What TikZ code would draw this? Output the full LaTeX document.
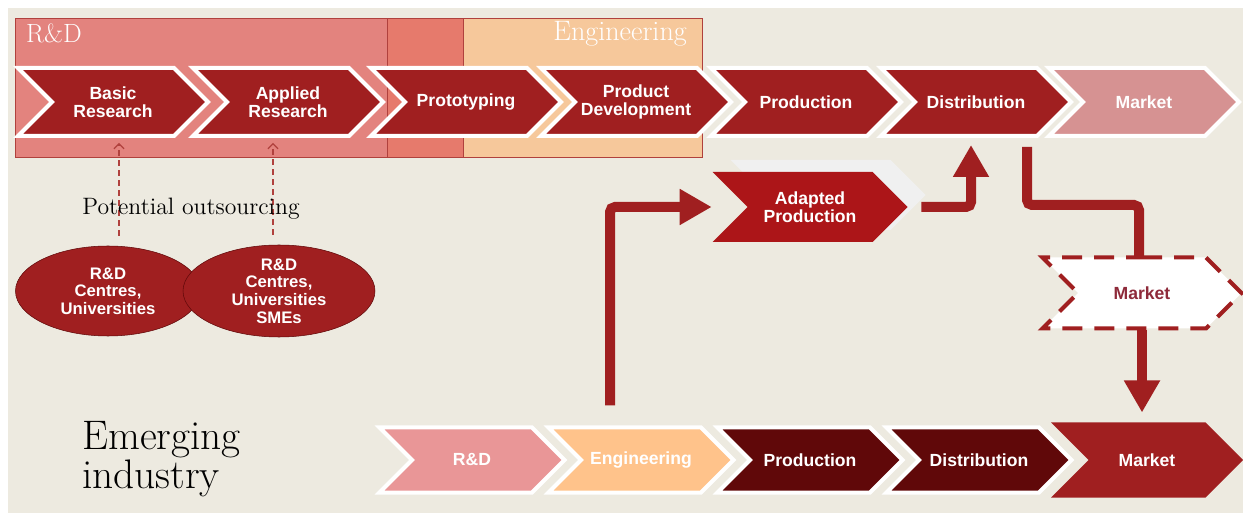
\documentclass[tikz,border=0pt]{standalone}
\usepackage{fontspec}
\setsansfont{Liberation Sans}
\usetikzlibrary{shapes.symbols,shapes.geometric,arrows.meta,shadows}

\definecolor{paper}{RGB}{237,234,224}
\definecolor{rdbox}{RGB}{227,131,126}
\definecolor{engbox}{RGB}{246,200,155}
\definecolor{overlapbox}{RGB}{230,122,108}
\definecolor{boxline}{RGB}{176,65,61}
\definecolor{chevred}{RGB}{160,31,32}
\definecolor{mktlight}{RGB}{214,146,146}
\definecolor{adred}{RGB}{172,21,24}
\definecolor{adshade}{RGB}{240,240,240}
\definecolor{rdpink}{RGB}{233,150,151}
\definecolor{engpeach}{RGB}{255,195,139}
\definecolor{darkprod}{RGB}{96,8,9}
\definecolor{mkttext}{RGB}{142,42,58}

\tikzset{
    chev/.style={signal, signal from=west, signal to=east, signal pointer angle=90,
        minimum width=38mm, minimum height=13.6mm, inner sep=0pt,
        draw=white, line width=0.8mm, fill=chevred, text=white,
        font=\sffamily\bfseries\fontsize{10}{10.5}\selectfont, align=center},
    lowchev/.style={chev, minimum width=37mm, minimum height=13mm},
    centre/.style={ellipse, fill=chevred, draw=darkprod, line width=0.3pt,
        text=white, inner sep=0pt, align=center,
        font=\sffamily\bfseries\fontsize{9.5}{10}\selectfont},
    flowline/.style={draw=chevred, line width=2mm},
    flowarrow/.style={flowline, -{Triangle[length=6.4mm,width=6.8mm]}},
    outsrc/.style={draw=boxline, line width=0.7pt, dash pattern=on 1.2mm off 0.8mm,
        -{Straight Barb[length=1mm,width=2mm]}}
}

\begin{document}
\begin{tikzpicture}[x=0.2mm, y=-0.2mm]
    \useasboundingbox (0,0) rectangle (1243,515);
    \fill[paper] (8,8) rectangle (1243,513);

    % phase boxes
    \filldraw[fill=rdbox, draw=boxline] (15,18) rectangle (463,157);
    \filldraw[fill=engbox, draw=boxline] (387,18) rectangle (702,157);
    \filldraw[fill=overlapbox, draw=boxline] (387,18) rectangle (463,157);
    \node[anchor=west, text=white, font=\fontsize{15}{16}\selectfont] (rdtitle) at (20,33) {R\&D};
    \node[anchor=east, text=white, font=\fontsize{16}{17}\selectfont] (engtitle) at (693,34) {Engineering};

    % mature value chain
    \node[chev] (basic) at (113,102) {Basic\\Research};
    \node[chev] (applied) at (288,102) {Applied\\Research};
    \node[chev] (proto) at (466,102) {Prototyping};
    \node[chev] (proddev) at (636,102) {Product\\Development};
    \node[chev] (prod) at (806,102) {Production};
    \node[chev] (dist) at (976,102) {Distribution};
    \node[chev, fill=mktlight] (market) at (1144,102) {Market};

    % outsourcing
    \node[centre, minimum width=37mm, minimum height=18mm] (centres) at (108,291) {R\&D\\Centres,\\Universities};
    \node[centre, minimum width=38.4mm, minimum height=18.4mm] (smes) at (279,291) {R\&D\\Centres,\\Universities\\SMEs};
    \draw[outsrc, shorten <=2mm, shorten >=1mm] ([xshift=1.2mm]centres.north -| basic.south) -- ([xshift=1.2mm]basic.south);
    \draw[outsrc, shorten <=2mm, shorten >=1mm] ([xshift=-3mm]smes.north -| applied.south) -- ([xshift=-3mm]applied.south);
    \node[font=\fontsize{13.5}{14}\selectfont] (outsrctext) at (191,209) {Potential outsourcing};

    % emerging industry
    \node[anchor=west, align=left, font=\fontsize{23.5}{22}\selectfont] (emerging) at (76,459) {Emerging\\industry};
    \node[lowchev, fill=rdpink] (rd2) at (472,460) {R\&D};
    \node[lowchev, fill=engpeach] (eng2) at (641,460) {Engineering};
    \node[lowchev, fill=darkprod] (prod2) at (810,460) {Production};
    \node[lowchev, fill=darkprod] (dist2) at (979,460) {Distribution};
    \node[lowchev, draw=none, minimum width=38.4mm, minimum height=15mm] (market2) at (1147,460) {Market};

    % adapted route
    \node[chev, draw=none, fill=adred, minimum width=39mm, minimum height=14mm,
        general shadow={shadow xshift=3.6mm, shadow yshift=2.4mm, fill=adshade}] (adapted) at (810,207) {Adapted\\Production};
    \draw[flowarrow, rounded corners=1mm] ([xshift=-6.2mm,yshift=4mm]eng2.north) |- ([xshift=-6.6mm]adapted.west);
    \draw[flowarrow, rounded corners=1mm, shorten >=1.4mm] ([xshift=2.2mm]adapted.east) -| ([xshift=-1mm]dist.south);
    \draw[flowline, rounded corners=1mm] ([xshift=10.2mm,yshift=-1.8mm]dist.south) -- ++(0,58) -| (1139,262);

    \node[chev, fill=white, draw=chevred, dash pattern=on 4mm off 2.4mm, text=mkttext,
        minimum width=39.8mm, minimum height=14.2mm] (marketnew) at (1142,293) {Market};
    \draw[flowarrow, shorten >=1.6mm] (marketnew.south) -- (marketnew.south |- market2.north);
\end{tikzpicture}
\end{document}
